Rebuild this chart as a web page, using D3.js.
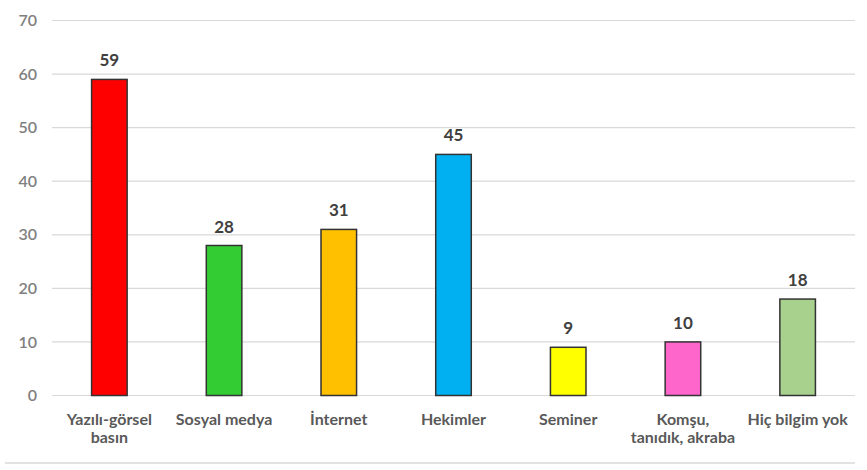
<!DOCTYPE html>
<html>
<head>
<meta charset="utf-8">
<script src="https://cdn.jsdelivr.net/npm/d3@7"></script>
<style>
  body { margin: 0; background: #fff; }
  text { font-family: Lato, "Open Sans", sans-serif; }
</style>
</head>
<body>
<div id="chart"></div>
<script>
var categories = [["Yazılı-görsel", "basın"], ["Sosyal medya"], ["İnternet"], ["Hekimler"], ["Seminer"], ["Komşu,", "tanıdık, akraba"], ["Hiç bilgim yok"]];
var values = [59, 28, 31, 45, 9, 10, 18];
var colors = ["#FF0000", "#33CC33", "#FFC000", "#00B0F0", "#FFFF00", "#FF66CC", "#A9D18E"];
var yTicks = [0, 10, 20, 30, 40, 50, 60, 70];

var width = 867, height = 470;
var margin = {top: 20.5, right: 12, bottom: 74.5, left: 52};

var svg = d3.select("#chart").append("svg")
    .attr("width", width).attr("height", height);

var x = d3.scaleBand()
    .domain(d3.range(values.length))
    .range([margin.left, width - margin.right])
    .paddingInner(0.69).paddingOuter(0.345);

var y = d3.scaleLinear()
    .domain([0, 70])
    .range([height - margin.bottom, margin.top]);

// gridlines
svg.append("g").selectAll("line")
    .data(yTicks)
  .enter().append("line")
    .attr("x1", margin.left).attr("x2", width - margin.right)
    .attr("y1", function(d){ return y(d); })
    .attr("y2", function(d){ return y(d); })
    .attr("stroke", "#D9D9D9").attr("stroke-width", 1.2);

// y labels
svg.append("g").selectAll("text")
    .data(yTicks)
  .enter().append("text")
    .attr("x", 37).attr("y", function(d){ return y(d); })
    .attr("dy", "0.35em").attr("text-anchor", "end")
    .attr("fill", "#808080").attr("font-size", 16).attr("font-weight", 600)
    .text(function(d){ return d; });

// bars
svg.append("g").selectAll("rect")
    .data(values)
  .enter().append("rect")
    .attr("x", function(d, i){ return x(i); })
    .attr("width", x.bandwidth())
    .attr("y", function(d){ return y(d); })
    .attr("height", function(d){ return y(0) - y(d); })
    .attr("fill", function(d, i){ return colors[i]; })
    .attr("stroke", "#333").attr("stroke-width", 1.5);

// value labels
svg.append("g").selectAll("text")
    .data(values)
  .enter().append("text")
    .attr("x", function(d, i){ return x(i) + x.bandwidth() / 2; })
    .attr("y", function(d){ return y(d) - 13; })
    .attr("text-anchor", "middle")
    .attr("fill", "#404040").attr("font-size", 17).attr("font-weight", "bold")
    .text(function(d){ return d; });

// category labels
var cat = svg.append("g").selectAll("text")
    .data(categories)
  .enter().append("text")
    .attr("x", function(d, i){ return x(i) + x.bandwidth() / 2; })
    .attr("y", y(0) + 29)
    .attr("text-anchor", "middle")
    .attr("fill", "#595959").attr("font-size", 16).attr("font-weight", "bold");
cat.selectAll("tspan")
    .data(function(d){ return d; })
  .enter().append("tspan")
    .attr("x", function(){ return d3.select(this.parentNode).attr("x"); })
    .attr("dy", function(d, i){ return i ? 18 : 0; })
    .text(function(d){ return d; });

// bottom border line
svg.append("line")
    .attr("x1", 5).attr("x2", width - margin.right)
    .attr("y1", 463).attr("y2", 463)
    .attr("stroke", "#D9D9D9").attr("stroke-width", 1.5);
</script>
</body>
</html>
